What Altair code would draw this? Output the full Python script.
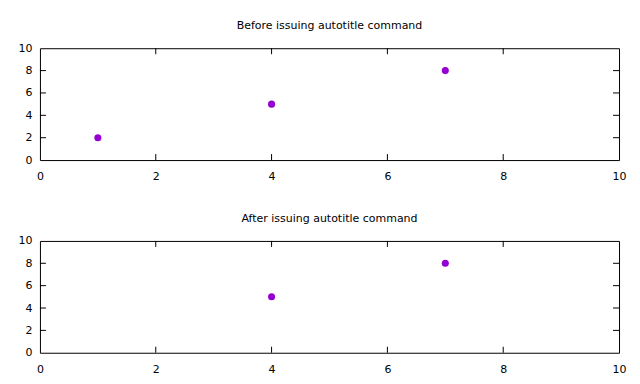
import altair as alt
import pandas as pd

before_x = [1, 4, 7]
before_y = [2, 5, 8]
after_x = [4, 7]
after_y = [5, 8]
label_values = [0, 2, 4, 6, 8, 10]
inner_ticks = [2, 4, 6, 8]
titles = ["Before issuing autotitle command", "After issuing autotitle command"]

W, H = 580, 112
TICK = 6
FONT = "DejaVu Sans"
COLOR = "#9400D3"


def panel(xs, ys, title):
    pts = pd.DataFrame({"x": xs, "y": ys})
    ticks = pd.DataFrame({"v": inner_ticks})
    xscale = alt.Scale(domain=[0, 10], nice=False)
    yscale = alt.Scale(domain=[0, 10], nice=False)
    xaxis = alt.Axis(values=label_values, format="d", title=None, ticks=False, tickSize=0,
                     domain=False, grid=False, labelPadding=10.5,
                     labelOverlap=False, labelFlush=False)
    yaxis = alt.Axis(values=label_values, format="d", title=None, ticks=False, tickSize=0,
                     domain=False, grid=False, labelPadding=8,
                     labelOverlap=False, labelFlush=False)
    points = alt.Chart(pts).mark_circle(size=50, color=COLOR, opacity=1).encode(
        x=alt.X("x:Q", scale=xscale, axis=xaxis),
        y=alt.Y("y:Q", scale=yscale, axis=yaxis),
    )
    tb = alt.Chart(ticks).mark_rule(color="black", strokeWidth=1)
    bottom = tb.encode(x=alt.X("v:Q", scale=xscale, axis=xaxis), y=alt.value(H), y2=alt.value(H - TICK))
    top = tb.encode(x=alt.X("v:Q", scale=xscale, axis=xaxis), y=alt.value(0), y2=alt.value(TICK))
    left = tb.encode(y=alt.Y("v:Q", scale=yscale, axis=yaxis), x=alt.value(0), x2=alt.value(TICK))
    right = tb.encode(y=alt.Y("v:Q", scale=yscale, axis=yaxis), x=alt.value(W), x2=alt.value(W - TICK))
    return alt.layer(points, bottom, top, left, right).properties(
        width=W, height=H,
        title=alt.TitleParams(title, fontSize=11, font=FONT, fontWeight="normal",
                              color="black", offset=11),
    )


chart = alt.vconcat(
    panel(before_x, before_y, titles[0]),
    panel(after_x, after_y, titles[1]),
    spacing=30,
).properties(
    padding={"left": 9, "top": 11, "right": 5, "bottom": 5},
    background="white",
).configure_view(
    stroke="black", strokeWidth=1
).configure_axis(
    labelFont=FONT, labelFontSize=11, labelColor="black", labelOverlap=False
)

chart.save("out.html", embed_options={"renderer": "svg", "actions": False})
